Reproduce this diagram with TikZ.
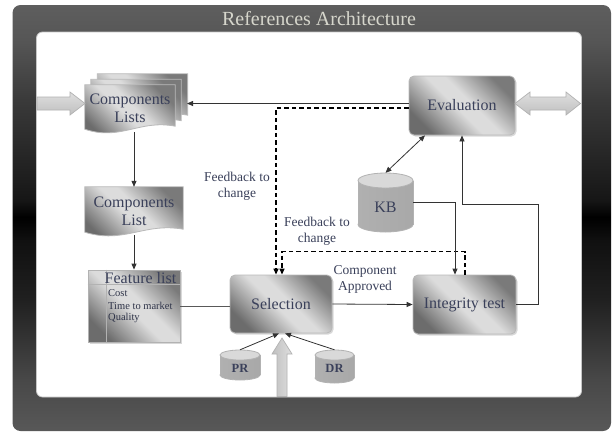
\documentclass[tikz,border=0pt]{standalone}
\usepackage{fontspec}
\setmainfont{Liberation Serif}
\usetikzlibrary{arrows.meta,calc,shadows}
\definecolor{txt}{RGB}{58,64,90}
\definecolor{ttl}{RGB}{214,214,204}
\definecolor{bxA}{RGB}{108,108,108}
\definecolor{bxB}{RGB}{220,220,220}
\definecolor{bxC}{RGB}{122,122,122}
\definecolor{fr0}{RGB}{94,94,94}
\definecolor{fr1}{RGB}{86,86,86}
\definecolor{fr2}{RGB}{58,58,58}
\definecolor{fr3}{RGB}{22,22,22}
\definecolor{fr4}{RGB}{0,0,0}
\definecolor{fr5}{RGB}{16,16,16}
\definecolor{fr6}{RGB}{32,32,32}
\definecolor{fr7}{RGB}{72,72,72}
\definecolor{fr8}{RGB}{88,88,88}
\pgfdeclarehorizontalshading{boxsh}{100bp}{color(0bp)=(bxA); color(25bp)=(bxA); color(47bp)=(bxB); color(55bp)=(bxB); color(75bp)=(bxC); color(100bp)=(bxC)}
\pgfdeclareverticalshading{frameshade}{100bp}{color(0bp)=(fr8); color(25bp)=(fr8); color(31bp)=(fr7); color(40.4bp)=(fr6); color(47.4bp)=(fr5); color(50.1bp)=(fr4); color(52.1bp)=(fr3); color(63.85bp)=(fr2); color(70.9bp)=(fr1); color(75bp)=(fr0); color(100bp)=(fr0)}
\pgfdeclarelayer{bg}
\pgfsetlayers{bg,main}
\newcommand\docshape[3]{%
  \path[docfill] let \p1=(#1.north west), \p2=(#1.south east) in
  ({\x1+#2},{\y1+#3}) -- ({\x2+#2},{\y1+#3}) -- ({\x2+#2},{\y2+#3+6pt})
  .. controls ({\x2+#2-0.4*(\x2-\x1)},{\y2+#3+13pt}) and ({\x1+#2+0.4*(\x2-\x1)},{\y2+#3-9pt}) ..
  ({\x1+#2},{\y2+#3+3pt}) -- cycle;}
\newcommand\cylinder[8]{%
  \shade[cylbody] (#2,{#3+#5/2-#6}) ellipse [x radius={#4/2*1pt}, y radius={#6*1pt}];
  \shade[cylbody, draw=none] ({#2-#4/2},{#3-#5/2+#6}) rectangle ({#2+#4/2},{#3+#5/2-#6});
  \draw[cyledge] ({#2-#4/2},{#3-#5/2+#6}) -- ({#2-#4/2},{#3+#5/2-#6})
                 ({#2+#4/2},{#3-#5/2+#6}) -- ({#2+#4/2},{#3+#5/2-#6});
  \filldraw[cyltop] (#2,{#3-#5/2+#6}) ellipse [x radius={#4/2*1pt}, y radius={#6*1pt}];
  \node[cylnode, minimum width=#4pt, minimum height=#5pt, #8] (#1) at (#2,#3) {#7};}
\tikzset{
  box/.style={rectangle, rounded corners=5pt, draw=gray!55, line width=0.8pt,
    shade, shading=boxsh, shading angle=45, text=txt, align=center, inner sep=0pt,
    font=\fontsize{16}{18}\selectfont,
    drop shadow={shadow xshift=1.5pt, shadow yshift=-1.5pt, opacity=0.3}},
  doctext/.style={rectangle, text=txt, align=center, inner sep=0pt,
    font=\fontsize{16}{18}\selectfont},
  docfill/.style={shade, shading=boxsh, shading angle=45, draw=gray!55, line width=0.8pt},
  cylbody/.style={left color=gray!62, middle color=gray!22, right color=gray!68, draw=gray!60, line width=0.8pt},
  cyledge/.style={draw=gray!60, line width=0.8pt},
  cyltop/.style={fill=gray!30, draw=gray!60, line width=0.8pt},
  cylnode/.style={rectangle, inner sep=0pt, text=txt},
  conn/.style={draw=black!80, line width=0.8pt},
  arr/.style={conn, -{Triangle[length=6pt,width=5pt]}},
  dbl/.style={conn, {Triangle[length=6pt,width=5pt]}-{Triangle[length=6pt,width=5pt]}},
  dasharr/.style={draw=black, line width=1.2pt, dash pattern=on 4.5pt off 3pt,
    -{Triangle[length=6pt,width=5pt]}},
  lbl/.style={text=txt, align=center, inner sep=0pt, font=\fontsize{13.5}{16}\selectfont},
  blockarrow/.style={draw=gray!60, line width=0.7pt},
  flitem/.style={anchor=west, inner sep=0pt, text=txt!80!black, font=\fontsize{10.5}{12}\selectfont},
}
\begin{document}
\begin{tikzpicture}[x=1pt,y=-1pt]
\useasboundingbox (0,0) rectangle (615,432);
% frame
\begin{pgfonlayer}{bg}
  \fill[white] (0,0) rectangle (615,432);
  \shade[shading=frameshade, rounded corners=8pt] (12.5,5) rectangle (611,431);
  \filldraw[fill=white, draw=gray!45, line width=0.8pt, rounded corners=6pt] (36.5,32) rectangle (581.5,397);
\end{pgfonlayer}
\node[text=ttl, inner sep=0pt, font=\fontsize{20}{22}\selectfont] (title) at (319,19) {References Architecture};

% boxes
\node[box, minimum width=106pt, minimum height=59pt] (ev) at (462,105.5) {Evaluation};
\node[box, minimum width=102pt, minimum height=58pt] (sel) at (281,304) {Selection};
\node[box, minimum width=103pt, minimum height=59pt] (it) at (464.5,304.5) {Integrity test};

% documents
\node[doctext, minimum width=90pt, minimum height=47pt] (cls) at (130,108.5) {Components\\Lists};
\node[doctext, minimum width=98pt, minimum height=48pt] (cl) at (134,211) {Components\\List};
\begin{pgfonlayer}{bg}
  \docshape{cls}{12.5pt}{11pt}
  \docshape{cls}{6pt}{5.5pt}
  \docshape{cls}{0pt}{0pt}
  \docshape{cl}{0pt}{0pt}
\end{pgfonlayer}

% feature list
\node[rectangle, draw=gray!60, line width=0.8pt, shade, shading=boxsh, shading angle=45,
      minimum width=92pt, minimum height=72pt, inner sep=0pt,
      drop shadow={shadow xshift=1.5pt, shadow yshift=-1.5pt, opacity=0.3}] (fl) at (134,306) {};
\draw[gray!60, line width=0.6pt] ([yshift=-15pt]fl.north west) -- ([yshift=-15pt]fl.north east);
\draw[gray!60, line width=0.6pt] ([xshift=19pt]fl.north west) -- ([xshift=19pt]fl.south west);
\node[anchor=west, inner sep=0pt, text=txt, font=\fontsize{16}{18}\selectfont] (flt) at (104.5,278.5) {Feature list};
\node[flitem] (fi1) at (108,293) {Cost};
\node[flitem] (fi2) at (108,305.5) {Time to market};
\node[flitem] (fi3) at (108,318) {Quality};
\node[flitem, text=gray, font=\fontsize{8}{9}\selectfont] (fi4) at (108,333) {...};

% cylinders
\cylinder{kb}{385.5}{202.5}{55}{59}{7.5}{KB}{font=\fontsize{16}{18}\selectfont, text height=19.6pt, text depth=0pt}
\cylinder{pr}{240}{365}{40}{30}{5}{PR}{font=\fontsize{12.5}{14}\selectfont\bfseries, text height=14.3pt, text depth=0pt}
\cylinder{dr}{334.5}{366.5}{39}{33}{5}{DR}{font=\fontsize{12.5}{14}\selectfont\bfseries, text height=11.3pt, text depth=0pt}

% block arrows
\shade[blockarrow, top color=gray!25, bottom color=gray!50]
  (37,97) -- (70,97) -- (70,92) -- (85,103.5) -- (70,115) -- (70,110) -- (37,110) -- cycle;
\shade[blockarrow, top color=gray!25, bottom color=gray!50]
  (515,103.5) -- (530,92) -- (530,97) -- (566,97) -- (566,92) -- (580.5,103.5)
  -- (566,115) -- (566,110) -- (530,110) -- (530,115) -- cycle;
\shade[blockarrow, left color=gray!50, right color=gray!25]
  (282,338) -- (292,354) -- (287,354) -- (287,396.5) -- (277,396.5) -- (277,354) -- (272,354) -- cycle;

% connectors
\coordinate (clsR) at (187,103.5);
\draw[arr] ([yshift=2pt]ev.west) -- (clsR);
\draw[arr] (cls.south -| cl.north) -- (cl.north);
\draw[arr] (cl.south) -- (fl.north);
\draw[conn, draw=black!65] (fl.east) -- (fl.east -| sel.west);
\draw[arr] (sel.east) -- (it.west);
\draw[dasharr] ([yshift=-2.5pt]ev.west) -| ([xshift=-5pt]sel.north);
\draw[dasharr] ([xshift=0.5pt]it.north) -- ++(0,-23) -| ([xshift=1pt]sel.north);
\draw[arr] (kb.east) -| ([xshift=-9.5pt]it.north);
\draw[arr] (it.east) -- ++(22,0) -- ++(0,-100) -| (ev.south);
\draw[dbl] ([xshift=-37pt]ev.south) -- (kb.north);
\draw[arr] (pr.north) -- ([xshift=-2pt]sel.south);
\draw[arr] (dr.north) -- ([xshift=4pt]sel.south);

% labels
\node[lbl] (fb1) at (237,186) {Feedback to\\change};
\node[lbl] (fb2) at (317,231) {Feedback to\\change};
\node[lbl] (ca) at (365,279) {Component\\Approved};
\end{tikzpicture}
\end{document}
